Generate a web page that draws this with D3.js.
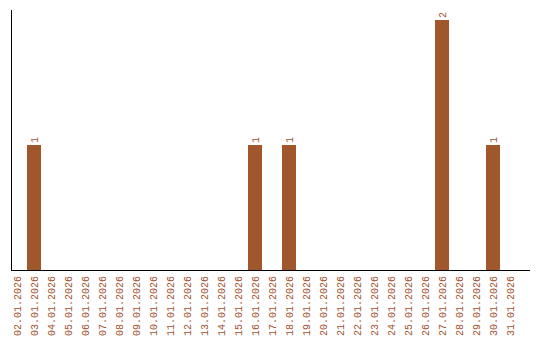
<!DOCTYPE html>
<html>
<head>
<meta charset="utf-8">
<script src="https://cdn.jsdelivr.net/npm/d3@7"></script>
<style>
    body { margin: 0; background: #fff; }
    text { font-family: "Liberation Mono", "Courier New", monospace; font-size: 10px; fill: #a0522d; }
</style>
</head>
<body>
<svg id="chart" width="540" height="340"></svg>
<script>
var days = ["02.01.2026", "03.01.2026", "04.01.2026", "05.01.2026", "06.01.2026", "07.01.2026",
    "08.01.2026", "09.01.2026", "10.01.2026", "11.01.2026", "12.01.2026", "13.01.2026",
    "14.01.2026", "15.01.2026", "16.01.2026", "17.01.2026", "18.01.2026", "19.01.2026",
    "20.01.2026", "21.01.2026", "22.01.2026", "23.01.2026", "24.01.2026", "25.01.2026",
    "26.01.2026", "27.01.2026", "28.01.2026", "29.01.2026", "30.01.2026", "31.01.2026"];
var counts = [0, 1, 0, 0, 0, 0, 0, 0, 0, 0, 0, 0, 0, 0, 1, 0, 1, 0, 0, 0, 0, 0, 0, 0, 0, 2, 0, 0, 1, 0];

var svg = d3.select("#chart");
var baseY = 270;

var x = d3.scaleBand()
    .domain(days)
    .range([8.5, 518.5])
    .paddingInner(3 / 17)
    .paddingOuter(1.5 / 17);

var y = d3.scaleLinear()
    .domain([0, d3.max(counts)])
    .range([baseY, 20]);

var data = days.map(function (d, i) {
    return {day: d, value: counts[i]};
});

svg.selectAll("rect.bar")
    .data(data.filter(function (d) { return d.value > 0; }))
    .enter()
    .append("rect")
    .attr("class", "bar")
    .attr("fill", "#a0572b")
    .attr("x", function (d) { return x(d.day); })
    .attr("width", x.bandwidth())
    .attr("y", function (d) { return y(d.value); })
    .attr("height", function (d) { return baseY - y(d.value); });

// value labels on top of bars
svg.selectAll("text.val")
    .data(data.filter(function (d) { return d.value > 0; }))
    .enter()
    .append("text")
    .attr("class", "val")
    .attr("transform", function (d) {
        return "translate(" + (x(d.day) + x.bandwidth() / 2) + "," + (y(d.value) - 2) + ") rotate(-90)";
    })
    .attr("dy", "0.35em")
    .text(function (d) { return d.value; });

// x labels
svg.selectAll("text.day")
    .data(days)
    .enter()
    .append("text")
    .attr("class", "day")
    .attr("text-anchor", "end")
    .attr("transform", function (d) {
        return "translate(" + (x(d) + x.bandwidth() / 2) + "," + (baseY + 6) + ") rotate(-90)";
    })
    .attr("dy", "0.35em")
    .text(function (d) { return d; });

// axes
svg.append("line")
    .attr("x1", 11.5).attr("y1", 10)
    .attr("x2", 11.5).attr("y2", baseY + 0.5)
    .attr("stroke", "#000").attr("stroke-width", 1);
svg.append("line")
    .attr("x1", 11).attr("y1", baseY + 0.5)
    .attr("x2", 530).attr("y2", baseY + 0.5)
    .attr("stroke", "#000").attr("stroke-width", 1);
</script>
</body>
</html>
